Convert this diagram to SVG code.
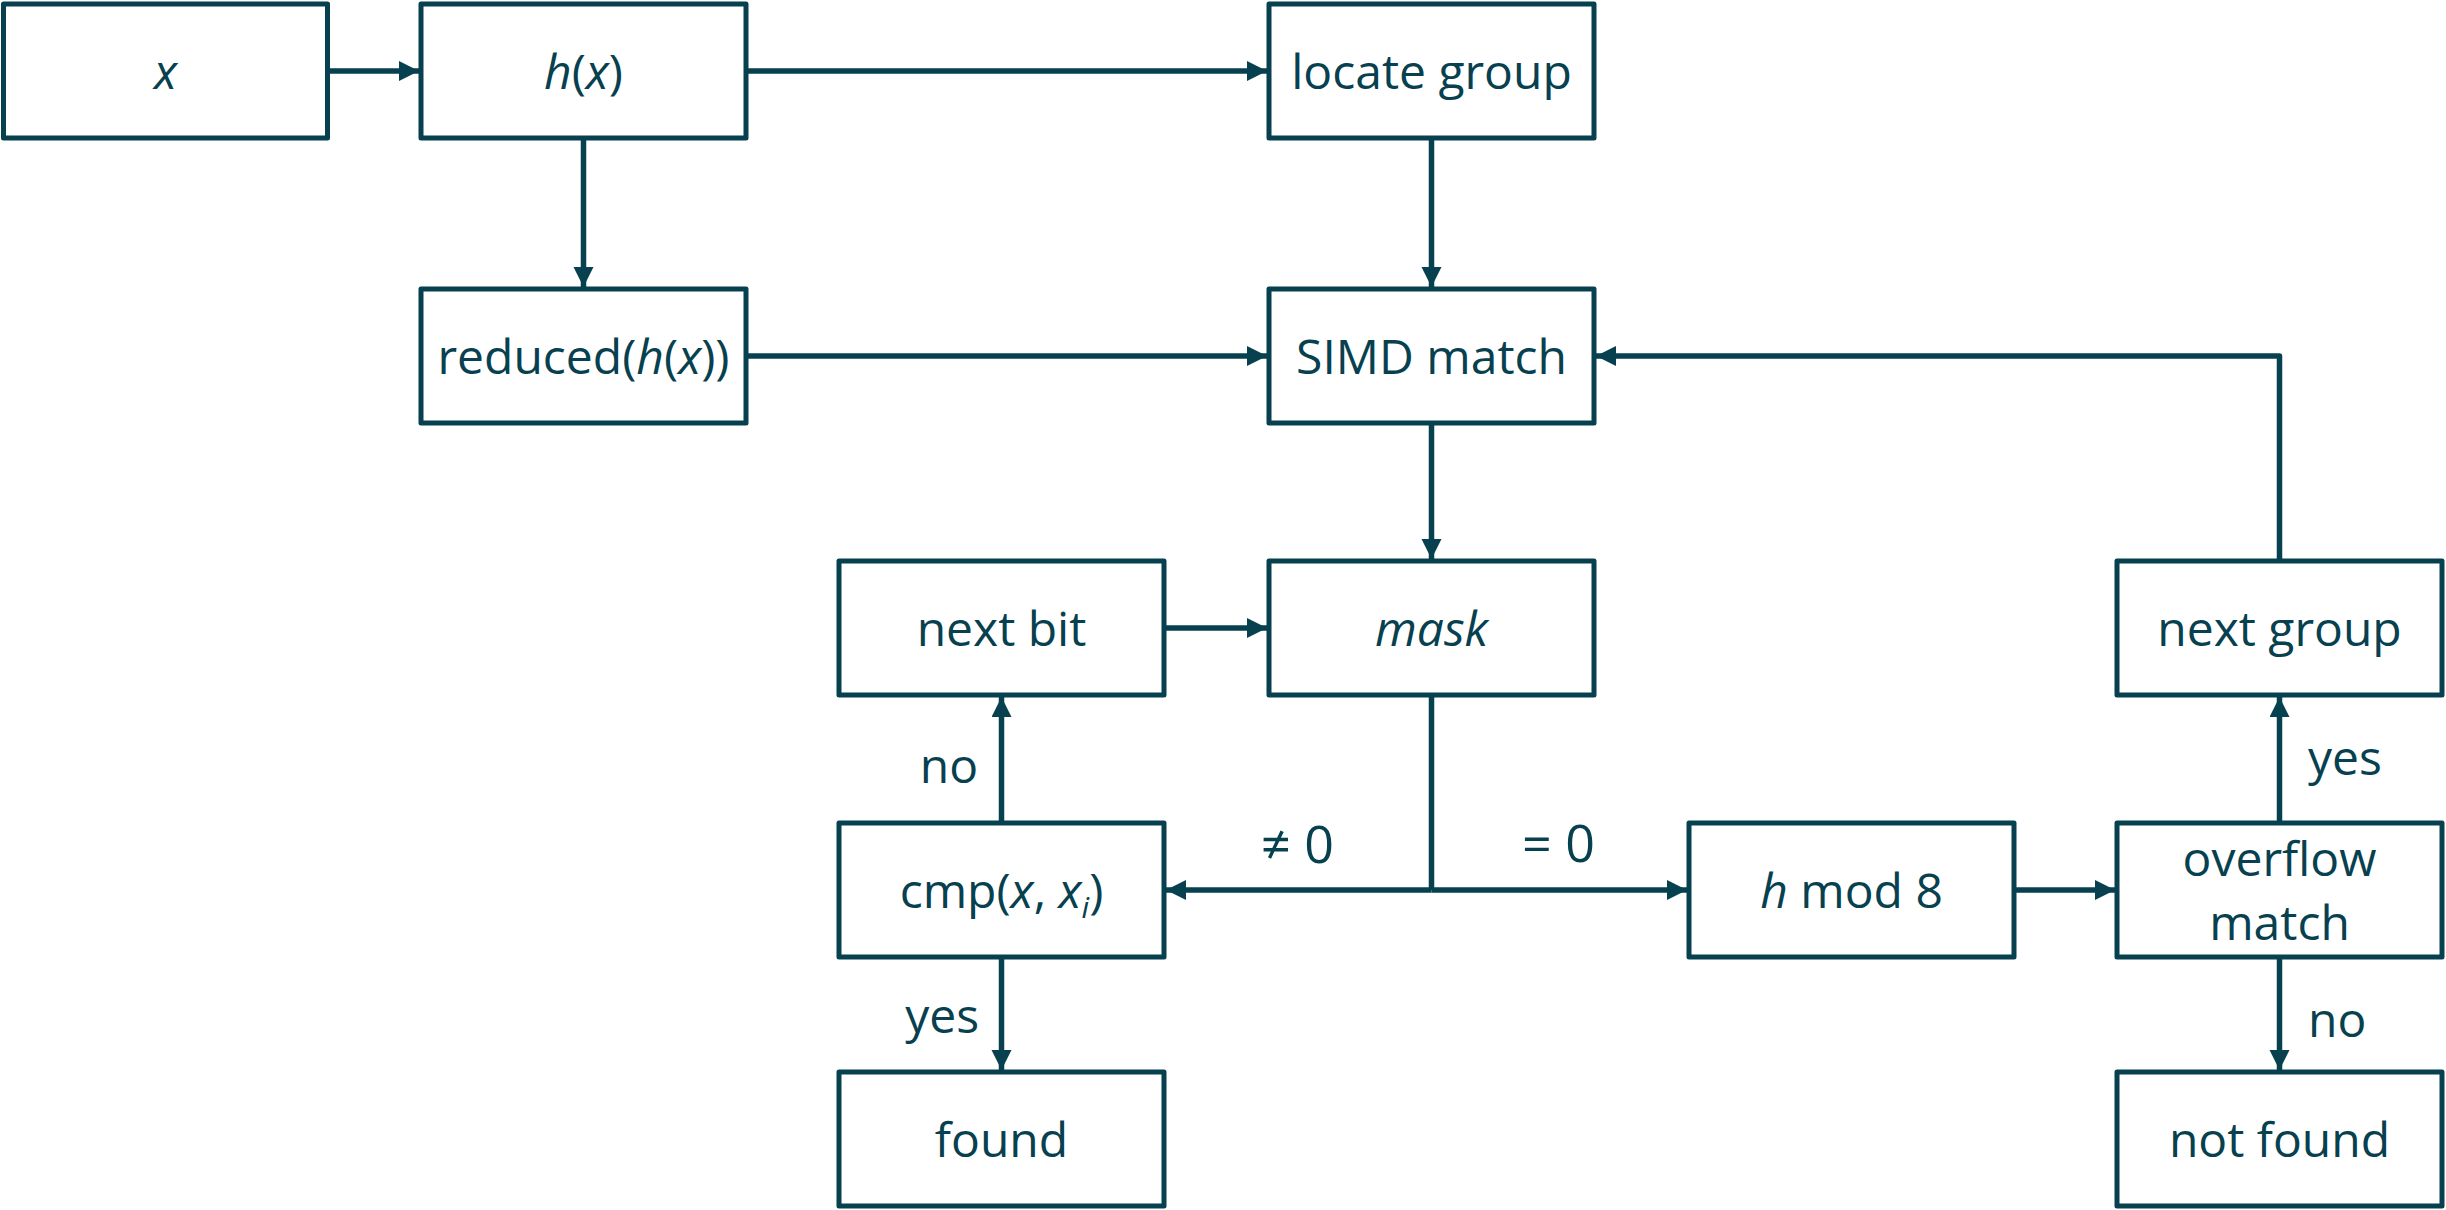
<svg xmlns="http://www.w3.org/2000/svg" width="2446" height="1210" viewBox="0 0 2446 1210">
  <style>
    .box { fill: #ffffff; stroke: #07404f; stroke-width: 5; stroke-linejoin: round; }
    .lbl { font-family: "Open Sans", "Noto Sans", sans-serif; font-size: 48px; fill: #07404f; text-anchor: middle; }
    .edge { font-family: "Open Sans", "Noto Sans", sans-serif; font-size: 48px; fill: #07404f; }
    .big { font-size: 52px; }
    .it { font-style: italic; }
    .wire { fill: none; stroke: #07404f; stroke-width: 5.5; stroke-linejoin: round; }
  </style>
  <defs>
    <marker id="arrow" markerUnits="userSpaceOnUse" markerWidth="22" markerHeight="22" refX="20" refY="10" orient="auto">
      <path d="M0,0 L20,10 L0,20 Z" fill="#07404f"/>
    </marker>
  </defs>
  <rect width="2446" height="1210" fill="#ffffff"/>

  <!-- connectors -->
  <g id="connectors">
    <line class="wire" x1="328" y1="71" x2="419" y2="71" marker-end="url(#arrow)"/>
    <line class="wire" x1="746" y1="71" x2="1267" y2="71" marker-end="url(#arrow)"/>
    <line class="wire" x1="583.5" y1="138" x2="583.5" y2="287" marker-end="url(#arrow)"/>
    <line class="wire" x1="1431.5" y1="138" x2="1431.5" y2="287" marker-end="url(#arrow)"/>
    <line class="wire" x1="746" y1="356" x2="1267" y2="356" marker-end="url(#arrow)"/>
    <line class="wire" x1="1431.5" y1="423" x2="1431.5" y2="559" marker-end="url(#arrow)"/>
    <line class="wire" x1="1164" y1="628" x2="1267" y2="628" marker-end="url(#arrow)"/>
    <line class="wire" x1="1431.5" y1="695" x2="1431.5" y2="890"/>
    <line class="wire" x1="1431.5" y1="890" x2="1166" y2="890" marker-end="url(#arrow)"/>
    <line class="wire" x1="1431.5" y1="890" x2="1687" y2="890" marker-end="url(#arrow)"/>
    <line class="wire" x1="2014" y1="890" x2="2115" y2="890" marker-end="url(#arrow)"/>
    <line class="wire" x1="2279.5" y1="823" x2="2279.5" y2="697" marker-end="url(#arrow)"/>
    <polyline class="wire" points="2279.5,561 2279.5,356 1596,356" marker-end="url(#arrow)"/>
    <line class="wire" x1="1001.5" y1="823" x2="1001.5" y2="697" marker-end="url(#arrow)"/>
    <line class="wire" x1="1001.5" y1="957" x2="1001.5" y2="1070" marker-end="url(#arrow)"/>
    <line class="wire" x1="2279.5" y1="957" x2="2279.5" y2="1070" marker-end="url(#arrow)"/>

    <text class="edge" x="978" y="783" text-anchor="end">no</text>
    <text class="edge" x="979" y="1033" text-anchor="end">yes</text>
    <text class="edge big" x="1334" y="863" text-anchor="end">≠ 0</text>
    <text class="edge big" x="1522" y="862">= 0</text>
    <text class="edge" x="2308" y="775">yes</text>
    <text class="edge" x="2308" y="1037">no</text>
  </g>

  <!-- nodes -->
  <g id="node-x">
    <rect class="box" x="3.5" y="4" width="324" height="134"/>
    <text class="lbl it" x="165.5" y="89">x</text>
  </g>
  <g id="node-hx">
    <rect class="box" x="421" y="4" width="325" height="134"/>
    <text class="lbl" x="583.5" y="89"><tspan class="it">h</tspan>(<tspan class="it">x</tspan>)</text>
  </g>
  <g id="node-locate">
    <rect class="box" x="1269" y="4" width="325" height="134"/>
    <text class="lbl" x="1431.5" y="89">locate group</text>
  </g>
  <g id="node-reduced">
    <rect class="box" x="421" y="289" width="325" height="134"/>
    <text class="lbl" x="583.5" y="374">reduced(<tspan class="it">h</tspan>(<tspan class="it">x</tspan>))</text>
  </g>
  <g id="node-simd">
    <rect class="box" x="1269" y="289" width="325" height="134"/>
    <text class="lbl" x="1431.5" y="374">SIMD match</text>
  </g>
  <g id="node-nextbit">
    <rect class="box" x="839" y="561" width="325" height="134"/>
    <text class="lbl" x="1001.5" y="646">next bit</text>
  </g>
  <g id="node-mask">
    <rect class="box" x="1269" y="561" width="325" height="134"/>
    <text class="lbl it" x="1431.5" y="646">mask</text>
  </g>
  <g id="node-nextgroup">
    <rect class="box" x="2117" y="561" width="325" height="134"/>
    <text class="lbl" x="2279.5" y="646">next group</text>
  </g>
  <g id="node-cmp">
    <rect class="box" x="839" y="823" width="325" height="134"/>
    <text class="lbl" x="1001.5" y="908">cmp(<tspan class="it">x</tspan>, <tspan class="it">x</tspan><tspan class="it" font-size="30" dy="10">i</tspan><tspan dy="-10">)</tspan></text>
  </g>
  <g id="node-hmod">
    <rect class="box" x="1689" y="823" width="325" height="134"/>
    <text class="lbl" x="1851.5" y="908"><tspan class="it">h</tspan> mod 8</text>
  </g>
  <g id="node-overflow">
    <rect class="box" x="2117" y="823" width="325" height="134"/>
    <text class="lbl" x="2279.5" y="876">overflow</text>
    <text class="lbl" x="2279.5" y="940">match</text>
  </g>
  <g id="node-found">
    <rect class="box" x="839" y="1072" width="325" height="134"/>
    <text class="lbl" x="1001.5" y="1157">found</text>
  </g>
  <g id="node-notfound">
    <rect class="box" x="2117" y="1072" width="325" height="134"/>
    <text class="lbl" x="2279.5" y="1157">not found</text>
  </g>
</svg>
